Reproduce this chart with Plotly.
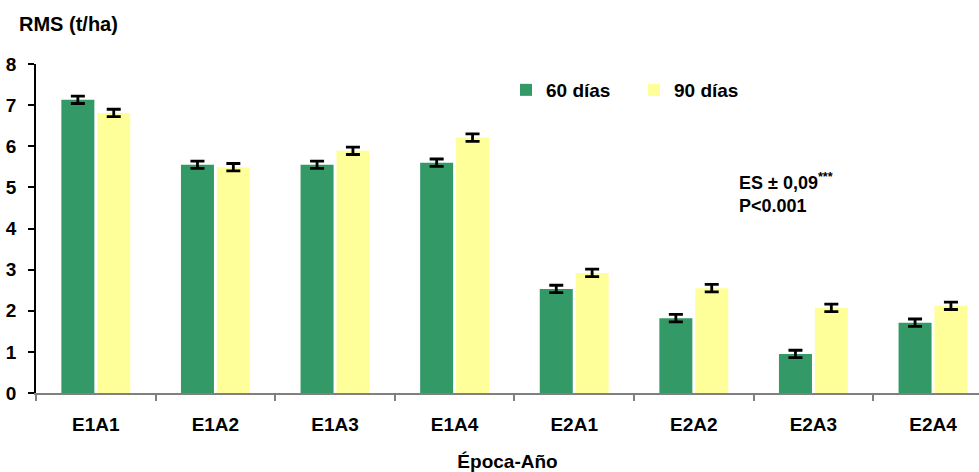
import plotly.graph_objects as go

# Época-Año combinations on the x axis
categories = ["E1A1", "E1A2", "E1A3", "E1A4", "E2A1", "E2A2", "E2A3", "E2A4"]

# Rendimiento de materia seca (t/ha) por edad de corte
rms_60 = [7.13, 5.55, 5.55, 5.60, 2.53, 1.82, 0.95, 1.71]
rms_90 = [6.81, 5.49, 5.89, 6.21, 2.92, 2.55, 2.07, 2.12]

# Error estándar común
es = 0.09

W, H = 979, 472
L, T, B = 36, 64, 79
plot_w = W - L
plot_h = H - T - B
cat_px = 119.6  # width of one category slot

FONT = "Liberation Sans, Arial, sans-serif"
FS = 19


def px_x(x):
    return (x - L) / plot_w


def px_y(y):
    return (H - B - y) / plot_h


def bold(size=FS):
    return dict(family=FONT, size=size, color="black", weight="bold")


err = dict(type="data", array=[es] * len(categories), visible=True,
           color="black", thickness=2.8, width=7)

fig = go.Figure()
fig.add_trace(go.Bar(x=categories, y=rms_60, name="60 días",
                     marker=dict(color="#339966", line=dict(width=0)),
                     error_y=err))
fig.add_trace(go.Bar(x=categories, y=rms_90, name="90 días",
                     marker=dict(color="#FFFF99", line=dict(width=0)),
                     error_y=err))

fig.update_layout(
    width=W, height=H,
    margin=dict(l=L, r=0, t=T, b=B, pad=0),
    paper_bgcolor="white", plot_bgcolor="white",
    barmode="group", bargap=0.4, bargroupgap=0.08,
    font=bold(),
    showlegend=True,
    legend=dict(orientation="h", x=px_x(506), xanchor="left",
                y=px_y(90), yanchor="middle",
                font=bold(), bgcolor="rgba(0,0,0,0)", itemclick=False,
                entrywidth=83, entrywidthmode="pixels"),
)

fig.update_xaxes(
    type="category",
    range=[-0.5, -0.5 + plot_w / cat_px],
    showline=True, linecolor="#808080", linewidth=1.5,
    ticks="outside", tickson="boundaries", ticklen=6, tickcolor="#808080",
    tickwidth=1.5, ticklabelstandoff=13,
    tickfont=bold(),
    showgrid=False, zeroline=False,
    title=dict(text="Época-Año", standoff=22, font=bold()),
)

fig.update_yaxes(
    range=[0, 8], dtick=1,
    showline=True, linecolor="black", linewidth=1.5,
    ticks="outside", ticklen=6, tickcolor="black", tickwidth=1.5,
    ticklabelstandoff=8,
    tickfont=bold(),
    showgrid=False, zeroline=False,
)

fig.add_annotation(text="RMS (t/ha)", xref="paper", yref="paper",
                   x=px_x(17), y=px_y(24), xanchor="left", yanchor="middle",
                   showarrow=False, font=bold(20))

fig.add_annotation(text="ES ± 0,09<sup>***</sup><br>P<0.001",
                   xref="paper", yref="paper",
                   x=px_x(737), y=px_y(193), xanchor="left", yanchor="middle",
                   align="left", showarrow=False, font=bold(18))

fig.write_html("out.html")
